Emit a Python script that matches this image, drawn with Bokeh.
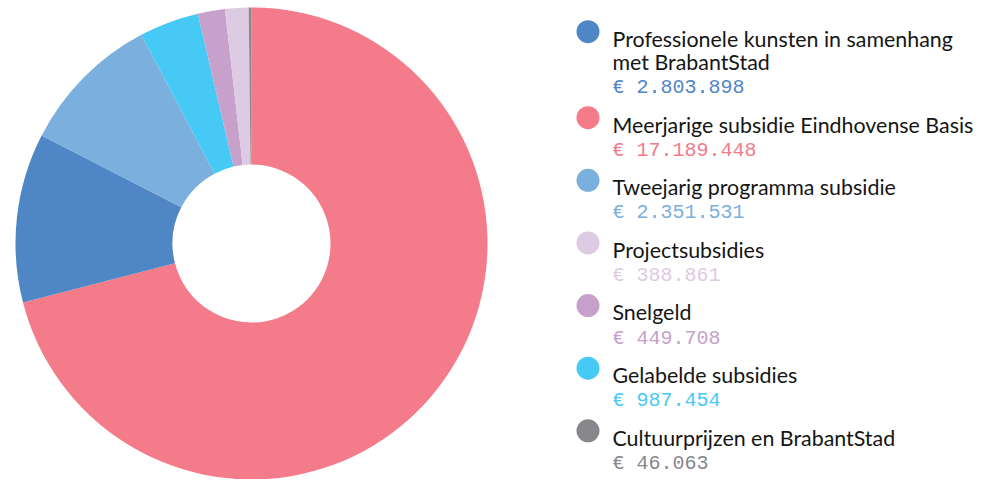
from bokeh.plotting import figure
from bokeh.models import Range1d, ColumnDataSource
from bokeh.core.properties import value
from bokeh.embed import file_html
from bokeh.resources import INLINE
import math

# ---- data ----
labels = [
    "Professionele kunsten in samenhang\nmet BrabantStad",
    "Meerjarige subsidie Eindhovense Basis",
    "Tweejarig programma subsidie",
    "Projectsubsidies",
    "Snelgeld",
    "Gelabelde subsidies",
    "Cultuurprijzen en BrabantStad",
]
amounts = [2803898, 17189448, 2351531, 388861, 449708, 987454, 46063]
colors = ["#4F86C6", "#F47B89", "#7BAFDE", "#DDCBE3", "#C7A0CB", "#47C9F5", "#87878C"]
amount_labels = ["€ " + f"{a:,}".replace(",", ".") for a in amounts]

W, H = 978, 479
def fy(py):
    return H - py

p = figure(width=W, height=H, output_backend="svg", toolbar_location=None,
           x_range=Range1d(0, W), y_range=Range1d(0, H),
           x_axis_location=None, y_axis_location=None, min_border=0)
p.grid.visible = False
p.outline_line_color = None
p.background_fill_color = "white"
p.border_fill_color = "white"

# ---- donut: sorted descending, clockwise from top ----
order = sorted(range(len(amounts)), key=lambda i: -amounts[i])
total = float(sum(amounts))
starts, ends, wcols = [], [], []
cum = 0.0
for i in order:
    c0 = cum / total
    cum += amounts[i]
    c1 = cum / total
    starts.append(math.pi / 2 - 2 * math.pi * c1)
    ends.append(math.pi / 2 - 2 * math.pi * c0)
    wcols.append(colors[i])
cx, cy = 251, fy(243)
src = ColumnDataSource(dict(x=[cx] * len(order), y=[cy] * len(order),
                            start=starts, end=ends, color=wcols))
p.annular_wedge(x="x", y="y", inner_radius=79, outer_radius=236,
                start_angle="start", end_angle="end", fill_color="color",
                line_color=None, source=src)

# ---- legend ----
k = 0.94
def comp(py):
    return 38 + (py - 39.3) * k

TX = 612
lx, ly, ltxt = [], [], []
vx, vy, vtxt, vcol = [], [], [], []
dx, dy, dcol = [], [], []
base = 39.3
for lab, amt, col in zip(labels, amount_labels, colors):
    lines = lab.split("\n")
    dx.append(TX - 24.5); dy.append(fy(comp(base - 7.3))); dcol.append(col)
    for j, ln in enumerate(lines):
        lx.append(TX); ly.append(fy(comp(base + 25 * j))); ltxt.append(ln)
    vb = base + 25 * (len(lines) - 1) + 27.3
    vx.append(TX); vy.append(fy(comp(vb))); vtxt.append(amt); vcol.append(col)
    base = vb + 39.3

p.scatter(x=dx, y=dy, size=23, marker="circle", fill_color=dcol, line_color=None)
p.text(x=lx, y=ly, text=ltxt, text_font=value("Lato"), text_font_size="21.4px",
       text_color="#151515", text_baseline="alphabetic", text_align="left")
p.text(x=vx, y=vy, text=vtxt, text_font=value("Liberation Mono"), text_font_size="20px",
       text_color=vcol, text_baseline="alphabetic", text_align="left")

open("out.html", "w").write(file_html(p, INLINE))
